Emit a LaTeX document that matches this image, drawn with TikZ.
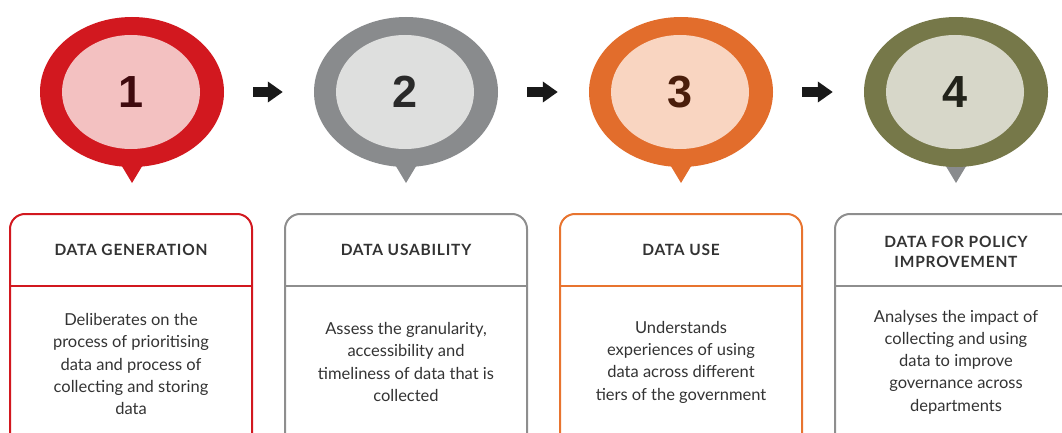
\documentclass[tikz,border=0pt]{standalone}
\usepackage{fontspec}
\setmainfont{Lato}
\newfontfamily\numfont{Liberation Sans}
\usetikzlibrary{shapes.geometric,arrows.meta}
\definecolor{cRed}{HTML}{D2181F}
\definecolor{cPink}{HTML}{F3C1C1}
\definecolor{nRed}{HTML}{3F0A0E}
\definecolor{cGrey}{HTML}{898B8D}
\definecolor{cGreyL}{HTML}{DEDFDE}
\definecolor{nGrey}{HTML}{2A2A2A}
\definecolor{cOrange}{HTML}{E26D2C}
\definecolor{cOrangeL}{HTML}{F9D5C1}
\definecolor{nOrange}{HTML}{4A1E0B}
\definecolor{cOlive}{HTML}{767849}
\definecolor{cOliveL}{HTML}{D7D7C9}
\definecolor{nOlive}{HTML}{22231A}
\definecolor{bGrey}{HTML}{8E8E8E}
\definecolor{bOrange}{HTML}{E8742F}
\definecolor{txt}{HTML}{333333}
\begin{document}
\begin{tikzpicture}[x=1pt,y=-1pt,
  outer/.style={ellipse,minimum width=184pt,minimum height=150pt,inner sep=0pt},
  inner/.style={ellipse,minimum width=138pt,minimum height=114pt,inner sep=0pt,
     font=\numfont\bfseries\fontsize{45}{45}\selectfont},
  card/.style={rectangle,rounded corners=15pt,line width=2pt,minimum width=242pt,
     minimum height=240pt,inner sep=0pt,anchor=north},
  divider/.style={line width=2pt},
  title/.style={align=center,text=txt,font=\fontsize{15.5}{20.5}\selectfont\bfseries\addfontfeatures{LetterSpace=5}},
  body/.style={align=center,text=txt,font=\fontsize{16.5}{22.3}\selectfont},
  blockarrow/.style={line width=10pt,draw=black!90,-{Triangle[length=15pt,width=20pt]},
     shorten <=29pt, shorten >=31pt}
]
\useasboundingbox (0,0) rectangle (1062,433);
\clip (0,0) rectangle (1062,433);
% pointers
\fill[cRed] (117,158) -- (147,158) -- (132,183) -- cycle;
\fill[cGrey] (391,158) -- (421,158) -- (406,183) -- cycle;
\fill[cOrange] (666,158) -- (696,158) -- (681,183) -- cycle;
\fill[cGrey] (941,158) -- (971,158) -- (956,183) -- cycle;
% pins
\node[outer,fill=cRed] (pin1) at (132,92) {};
\node[inner,fill=cPink,text=nRed] (num1) at (131,92) {1};
\node[outer,fill=cGrey] (pin2) at (406,92) {};
\node[inner,fill=cGreyL,text=nGrey] (num2) at (405,92) {2};
\node[outer,fill=cOrange] (pin3) at (681,92) {};
\node[inner,fill=cOrangeL,text=nOrange] (num3) at (680,92) {3};
\node[outer,fill=cOlive] (pin4) at (956,92) {};
\node[inner,fill=cOliveL,text=nOlive] (num4) at (955,92) {4};
% arrows
\draw[blockarrow] (pin1) -- (pin2);
\draw[blockarrow] (pin2) -- (pin3);
\draw[blockarrow] (pin3) -- (pin4);
% cards
\node[card,draw=cRed] (box1) at (131,213) {};
\node[card,draw=bGrey] (box2) at (406,213) {};
\node[card,draw=bOrange] (box3) at (681,213) {};
\node[card,draw=bGrey] (box4) at (956,213) {};
\draw[divider,cRed] (box1.west |- 0,286) -- (box1.east |- 0,286);
\draw[divider,bGrey] (box2.west |- 0,286) -- (box2.east |- 0,286);
\draw[divider,bOrange] (box3.west |- 0,286) -- (box3.east |- 0,286);
\draw[divider,bGrey] (box4.west |- 0,286) -- (box4.east |- 0,286);
% titles
\node[title] (t1) at (131,250) {DATA GENERATION};
\node[title] (t2) at (406,250) {DATA USABILITY};
\node[title] (t3) at (681,250) {DATA USE};
\node[title] (t4) at (956,252) {DATA FOR POLICY\\IMPROVEMENT};
% bodies
\node[body] (d1) at (131,364) {Deliberates on the\\process of prioritising\\data and process of\\collecting and storing\\data};
\node[body] (d2) at (406,362) {Assess the granularity,\\accessibility and\\timeliness of data that is\\collected};
\node[body] (d3) at (681,362) {Understands\\experiences of using\\data across different\\tiers of the government};
\node[body] (d4) at (956,362) {Analyses the impact of\\collecting and using\\data to improve\\governance across\\departments};
\end{tikzpicture}
\end{document}
